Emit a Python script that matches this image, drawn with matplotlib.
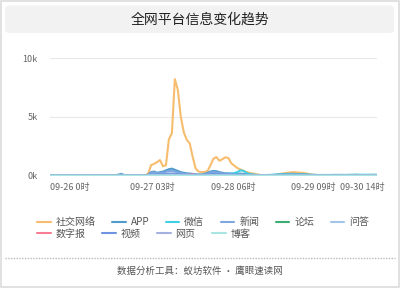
import matplotlib
matplotlib.use("Agg")
import matplotlib.pyplot as plt
from matplotlib.patches import FancyBboxPatch, Rectangle
from matplotlib.lines import Line2D
from matplotlib.ticker import FuncFormatter
import matplotlib.transforms as mtransforms

plt.rcParams["font.family"] = ["Noto Sans CJK SC", "DejaVu Sans"]

# hourly points, 09-26 00时 .. 09-30 14时
tick_idx = [0, 27, 54, 81, 110]
tick_labels = ["09-26 0时", "09-27 03时", "09-28 06时", "09-29 09时", "09-30 14时"]

names = ["社交网络", "APP", "微信", "新闻", "论坛", "问答", "数字报", "视频", "网页", "博客"]
colors = ["#f7bd6e", "#4f9ccb", "#3fd0e4", "#7ea6df", "#3aae72",
          "#a3c6e8", "#f77d95", "#6e93e0", "#a5b1e0", "#a8e6e3"]

social = [10, 12, 8, 10, 15, 12, 10, 8, 10, 12,
          10, 15, 12, 10, 8, 10, 12, 15, 20, 18,
          15, 20, 25, 30, 40, 30, 20, 15, 20, 25,
          30, 40, 60, 150, 900, 1000, 1150, 1330, 800, 900,
          3100, 3600, 8200, 7300, 5000, 3700, 3050, 2750, 1600, 600,
          350, 300, 320, 400, 900, 1450, 1580, 1270, 1400, 1570,
          1500, 1050, 850, 650, 540, 420, 320, 250, 200, 150,
          100, 60, 40, 30, 40, 50, 80, 120, 180, 220,
          250, 280, 300, 280, 260, 240, 200, 150, 100, 80,
          60, 50, 45, 40, 40, 50, 60, 50, 45, 40,
          40, 50, 60, 70, 60, 50, 45, 50, 60, 70, 60]
app = [20, 20, 15, 20, 25, 20, 15, 20, 20, 25,
       20, 15, 20, 25, 20, 20, 15, 20, 25, 30,
       30, 25, 40, 90, 150, 60, 30, 25, 20, 20,
       25, 30, 40, 80, 300, 350, 250, 300, 350, 450,
       550, 600, 500, 400, 300, 250, 200, 180, 150, 120,
       100, 100, 150, 250, 350, 400, 380, 300, 250, 200,
       200, 180, 150, 150, 180, 150, 120, 100, 80, 60,
       50, 45, 40, 40, 50, 60, 80, 100, 120, 140,
       150, 160, 150, 140, 130, 120, 100, 80, 70, 60,
       55, 50, 50, 45, 45, 50, 55, 60, 55, 50,
       50, 55, 60, 65, 60, 55, 50, 55, 60, 60, 55]
wechat = [5, 5, 5, 5, 5, 5, 5, 5, 5, 5,
          5, 5, 5, 5, 5, 5, 5, 5, 5, 5,
          5, 5, 5, 10, 10, 5, 5, 5, 5, 5,
          5, 5, 10, 20, 60, 80, 60, 70, 90, 120,
          150, 130, 100, 80, 60, 50, 40, 40, 30, 30,
          30, 30, 40, 60, 90, 120, 130, 110, 100, 120,
          150, 180, 220, 300, 450, 420, 250, 150, 100, 80,
          60, 50, 50, 60, 70, 80, 90, 100, 110, 120,
          130, 140, 130, 120, 110, 100, 90, 80, 70, 70,
          60, 60, 60, 60, 60, 70, 70, 70, 70, 70,
          70, 80, 80, 80, 80, 80, 80, 80, 80, 80, 80]
news = [10, 10, 10, 10, 10, 10, 10, 10, 10, 10,
        10, 10, 10, 10, 10, 10, 10, 10, 10, 10,
        10, 10, 15, 40, 80, 30, 15, 10, 10, 10,
        10, 15, 20, 60, 250, 280, 200, 220, 260, 330,
        400, 420, 350, 280, 220, 180, 150, 130, 110, 90,
        80, 80, 110, 180, 260, 300, 280, 230, 190, 160,
        150, 130, 110, 100, 110, 100, 80, 70, 60, 50,
        40, 35, 30, 30, 35, 40, 50, 60, 70, 80,
        90, 90, 85, 80, 75, 70, 60, 50, 45, 40,
        35, 35, 30, 30, 30, 35, 35, 40, 35, 35,
        35, 35, 40, 40, 40, 35, 35, 35, 40, 40, 35]
forum = [2, 2, 2, 2, 2, 2, 2, 2, 2, 2,
         2, 2, 2, 2, 2, 2, 2, 2, 2, 2,
         2, 2, 2, 3, 3, 2, 2, 2, 2, 2,
         2, 2, 3, 5, 15, 20, 15, 15, 20, 25,
         30, 30, 25, 20, 15, 12, 10, 10, 8, 8,
         8, 8, 10, 15, 20, 25, 25, 20, 18, 15,
         15, 12, 10, 10, 12, 10, 8, 7, 6, 5,
         5, 5, 5, 5, 5, 5, 6, 7, 8, 8,
         9, 9, 9, 8, 8, 7, 6, 5, 5, 5,
         5, 5, 5, 5, 5, 5, 5, 5, 5, 5,
         5, 5, 5, 5, 5, 5, 5, 5, 5, 5, 5]
qa = [15, 15, 15, 15, 15, 15, 15, 15, 15, 15,
      15, 15, 15, 15, 15, 15, 15, 15, 15, 15,
      15, 15, 15, 20, 30, 20, 15, 15, 15, 15,
      15, 15, 20, 25, 40, 50, 40, 45, 50, 60,
      70, 70, 60, 50, 40, 35, 30, 30, 25, 25,
      25, 25, 30, 40, 50, 55, 50, 45, 40, 35,
      35, 30, 30, 30, 30, 30, 25, 25, 20, 20,
      20, 20, 20, 20, 20, 20, 25, 25, 25, 30,
      30, 30, 30, 30, 25, 25, 25, 20, 20, 20,
      20, 20, 20, 20, 20, 20, 20, 20, 20, 20,
      20, 20, 20, 20, 20, 20, 20, 20, 20, 20, 20]
paper = [0, 0, 0, 0, 0, 0, 0, 0, 0, 0,
         0, 0, 0, 0, 0, 0, 0, 0, 0, 0,
         0, 0, 0, 0, 0, 0, 0, 0, 0, 0,
         0, 0, 0, 0, 5, 10, 10, 10, 10, 15,
         20, 20, 20, 15, 15, 20, 40, 80, 100, 60,
         20, 10, 10, 10, 15, 20, 20, 15, 10, 10,
         10, 10, 10, 10, 10, 10, 5, 5, 5, 5,
         5, 5, 5, 5, 5, 5, 5, 5, 5, 5,
         5, 5, 5, 5, 5, 5, 5, 5, 5, 5,
         5, 5, 5, 5, 5, 5, 5, 5, 5, 5,
         5, 5, 5, 5, 5, 5, 5, 5, 5, 5, 5]
video = [5, 5, 5, 5, 5, 5, 5, 5, 5, 5,
         5, 5, 5, 5, 5, 5, 5, 5, 5, 5,
         5, 5, 5, 10, 20, 10, 5, 5, 5, 5,
         5, 5, 10, 20, 100, 120, 90, 100, 120, 150,
         180, 190, 160, 130, 100, 80, 70, 60, 50, 40,
         40, 40, 50, 80, 120, 140, 130, 110, 90, 80,
         70, 60, 55, 50, 55, 50, 40, 35, 30, 25,
         20, 20, 20, 20, 20, 25, 30, 35, 40, 45,
         50, 50, 50, 45, 40, 40, 35, 30, 25, 25,
         20, 20, 20, 20, 20, 20, 20, 20, 20, 20,
         20, 20, 20, 20, 20, 20, 20, 20, 20, 20, 20]
web = [8, 8, 8, 8, 8, 8, 8, 8, 8, 8,
       8, 8, 8, 8, 8, 8, 8, 8, 8, 8,
       8, 8, 8, 10, 15, 10, 8, 8, 8, 8,
       8, 8, 10, 15, 50, 60, 50, 55, 60, 70,
       80, 85, 75, 60, 50, 45, 40, 35, 30, 25,
       25, 25, 30, 40, 55, 60, 55, 50, 45, 40,
       40, 35, 30, 30, 30, 30, 25, 20, 20, 15,
       15, 15, 15, 15, 15, 15, 20, 20, 20, 25,
       25, 25, 25, 25, 20, 20, 20, 15, 15, 15,
       15, 15, 15, 15, 15, 15, 15, 15, 15, 15,
       15, 15, 15, 15, 15, 15, 15, 15, 15, 15, 15]
blog = [3, 3, 3, 3, 3, 3, 3, 3, 3, 3,
        3, 3, 3, 3, 3, 3, 3, 3, 3, 3,
        3, 3, 3, 3, 5, 3, 3, 3, 3, 3,
        3, 3, 3, 5, 10, 12, 10, 10, 12, 15,
        18, 18, 15, 12, 10, 8, 8, 7, 6, 5,
        5, 5, 6, 8, 10, 12, 12, 10, 9, 8,
        8, 7, 6, 6, 6, 6, 5, 5, 4, 4,
        4, 4, 4, 4, 4, 4, 5, 5, 5, 5,
        6, 6, 6, 5, 5, 5, 4, 4, 4, 4,
        4, 4, 4, 4, 4, 4, 4, 4, 4, 4,
        4, 4, 4, 4, 4, 4, 4, 4, 4, 4, 4]

series = [social, app, wechat, news, forum, qa, paper, video, web, blog]

fig = plt.figure(figsize=(4.0, 2.88), dpi=100)
W, H = 400, 288


def fx(px):
    return px / W


def fy(py):
    return 1 - py / H


# outer frame
fig.patches.append(Rectangle((0.002, 0.003), 0.996, 0.994, transform=fig.transFigure,
                             fill=False, edgecolor="#dcdcdc", linewidth=1.2))
# title box
fig.patches.append(FancyBboxPatch((fx(5), fy(33)), fx(389), 27.5 / H,
                                  boxstyle="round,pad=0,rounding_size=0.012",
                                  transform=fig.transFigure, facecolor="#f2f2f2",
                                  edgecolor="none"))
fig.text(0.5, fy(19.5), "全网平台信息变化趋势", ha="center", va="center",
         fontsize=10, color="#222222", fontweight="medium")

ax = fig.add_axes([fx(50), fy(175.7), fx(327), (175.7 - 58) / H])
x = list(range(len(social)))
handles = []
for name, col, vals in zip(names, colors, series):
    h, = ax.plot(x, vals, color=col, linewidth=1.5, label=name, solid_capstyle="round")
    handles.append(h)

ax.set_xlim(0, len(social) - 1)
ax.set_ylim(0, 10000)
ax.set_yticks([0, 5000, 10000])
ax.yaxis.set_major_formatter(FuncFormatter(lambda v, p: f"{int(v / 1000)}k"))
ax.grid(axis="y", color="#e8e8e8", linewidth=0.8)
ax.set_axisbelow(True)
for s in ax.spines.values():
    s.set_visible(False)
ax.tick_params(length=0, labelsize=6.5, labelcolor="#666666")
ax.tick_params(axis="y", pad=9)
ax.tick_params(axis="x", pad=5)
ax.set_xticks(tick_idx)
ax.set_xticklabels(tick_labels)
for i, lab in enumerate(ax.get_xticklabels()):
    if i < len(tick_labels) - 1:
        lab.set_ha("left")
    else:
        lab.set_ha("right")
        lab.set_transform(lab.get_transform() +
                          mtransforms.ScaledTranslation(8 / 100, 0, fig.dpi_scale_trans))

leg_kw = dict(frameon=False, fontsize=7.2, handlelength=1.35, handletextpad=0.5,
              columnspacing=1.65, borderpad=0, borderaxespad=0, loc="center left")
leg1 = fig.legend(handles[:6], names[:6], ncol=6, bbox_to_anchor=(fx(37), fy(222)), **leg_kw)
leg2 = fig.legend(handles[6:], names[6:], ncol=4, bbox_to_anchor=(fx(37), fy(233.5)), **leg_kw)
for lg in (leg1, leg2):
    for t in lg.get_texts():
        t.set_color("#555555")

# dotted separator and footer
fig.lines.append(Line2D([fx(5), fx(395)], [fy(257.5), fy(257.5)], transform=fig.transFigure,
                        color="#bbbbbb", linewidth=1, linestyle=(0, (1, 1))))
fig.text(0.5, fy(271), "数据分析工具：蚁坊软件 • 鹰眼速读网", ha="center", va="center",
         fontsize=6.8, color="#555555")

fig.savefig("out.png", dpi=100)
